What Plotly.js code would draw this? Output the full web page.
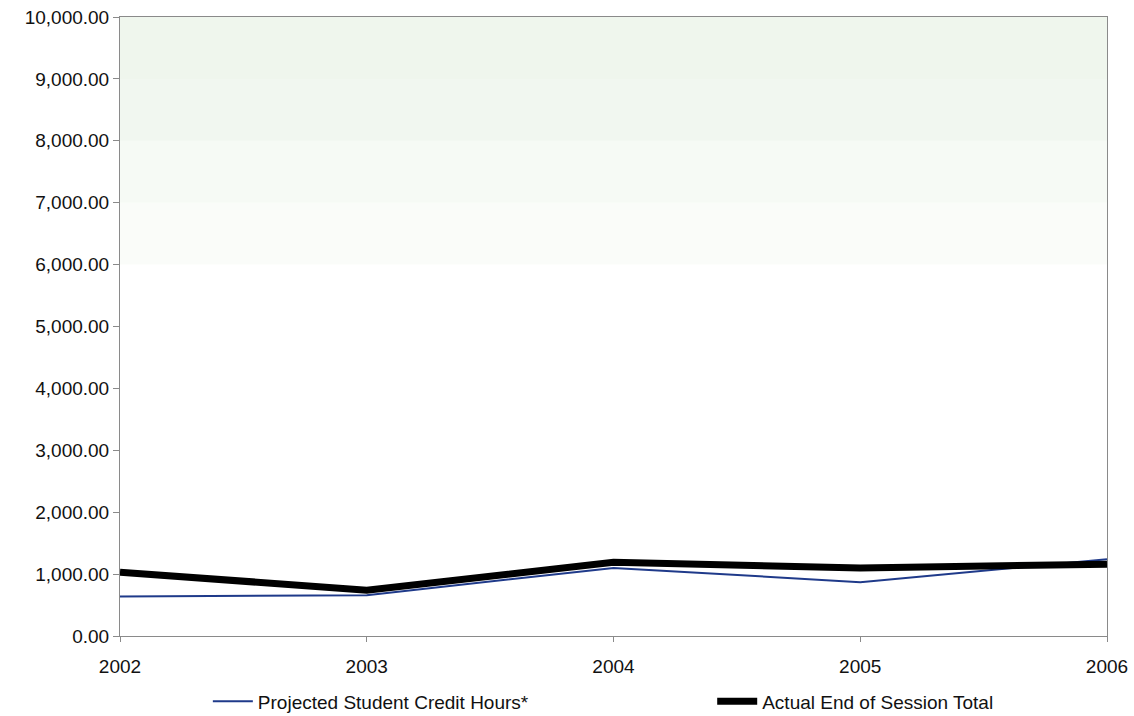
<!DOCTYPE html>
<html>
<head>
<meta charset="utf-8">
<script src="https://cdn.plot.ly/plotly-3.0.1.min.js"></script>
<style>html,body{margin:0;padding:0;background:#fff;}#chart{width:1134px;height:716px;}</style>
</head>
<body>
<div id="chart"></div>
<script>
const years = [2002, 2003, 2004, 2005, 2006];
const projectedLabel = "Projected Student Credit Hours*";
const projected = [640, 660, 1100, 870, 1240];
const actualLabel = "Actual End of Session Total";
const actual = [1030, 740, 1190, 1100, 1160];
const yTicks = [0, 1000, 2000, 3000, 4000, 5000, 6000, 7000, 8000, 9000, 10000];

const traces = [
  {x: years, y: projected, name: projectedLabel, mode: "lines", type: "scatter",
   line: {color: "#1f3a8a", width: 2}, legend: "legend"},
  {x: years, y: actual, name: actualLabel, mode: "lines", type: "scatter",
   line: {color: "#000000", width: 7}, legend: "legend2"}
];

const shapes = [];
const bands = [[6000, 7000, 0.2], [7000, 8000, 0.35], [8000, 9000, 0.5], [9000, 10000, 0.6]];
bands.forEach(b => shapes.push({type: "rect", xref: "paper", yref: "y", x0: 0, x1: 1, y0: b[0], y1: b[1],
  fillcolor: "rgba(228,240,225," + b[2] + ")", line: {width: 0}, layer: "below"}));

const legendBase = {orientation: "h", xanchor: "left", y: -0.075, yanchor: "top",
  font: {size: 19, color: "#111111"}, itemwidth: 40, bgcolor: "rgba(0,0,0,0)"};

const layout = {
  width: 1134, height: 716,
  margin: {l: 120, r: 27, t: 17, b: 80, autoexpand: false},
  paper_bgcolor: "#ffffff", plot_bgcolor: "#ffffff",
  font: {family: "Arial, Liberation Sans, sans-serif", size: 19, color: "#111111"},
  showlegend: true,
  legend: Object.assign({}, legendBase, {x: 0.089}),
  legend2: Object.assign({}, legendBase, {x: 0.600}),
  xaxis: {range: [2002, 2006], tickvals: years, ticktext: years.map(String),
    showgrid: false, zeroline: false, showline: true, linecolor: "#8a8a8a", linewidth: 1,
    mirror: true, ticks: "outside", ticklen: 5, tickcolor: "#8a8a8a", tickfont: {size: 19}, automargin: false,
    ticklabelstandoff: 8},
  yaxis: {range: [0, 10000], tickvals: yTicks, ticktext: yTicks.map(v => v.toLocaleString("en-US", {minimumFractionDigits: 2, maximumFractionDigits: 2})),
    showgrid: false, zeroline: false, showline: true, linecolor: "#8a8a8a", linewidth: 1,
    mirror: true, ticks: "outside", ticklen: 6, tickcolor: "#8a8a8a", tickfont: {size: 19}, automargin: false},
  shapes: shapes
};

Plotly.newPlot("chart", traces, layout, {displayModeBar: false, staticPlot: true});
</script>
</body>
</html>
